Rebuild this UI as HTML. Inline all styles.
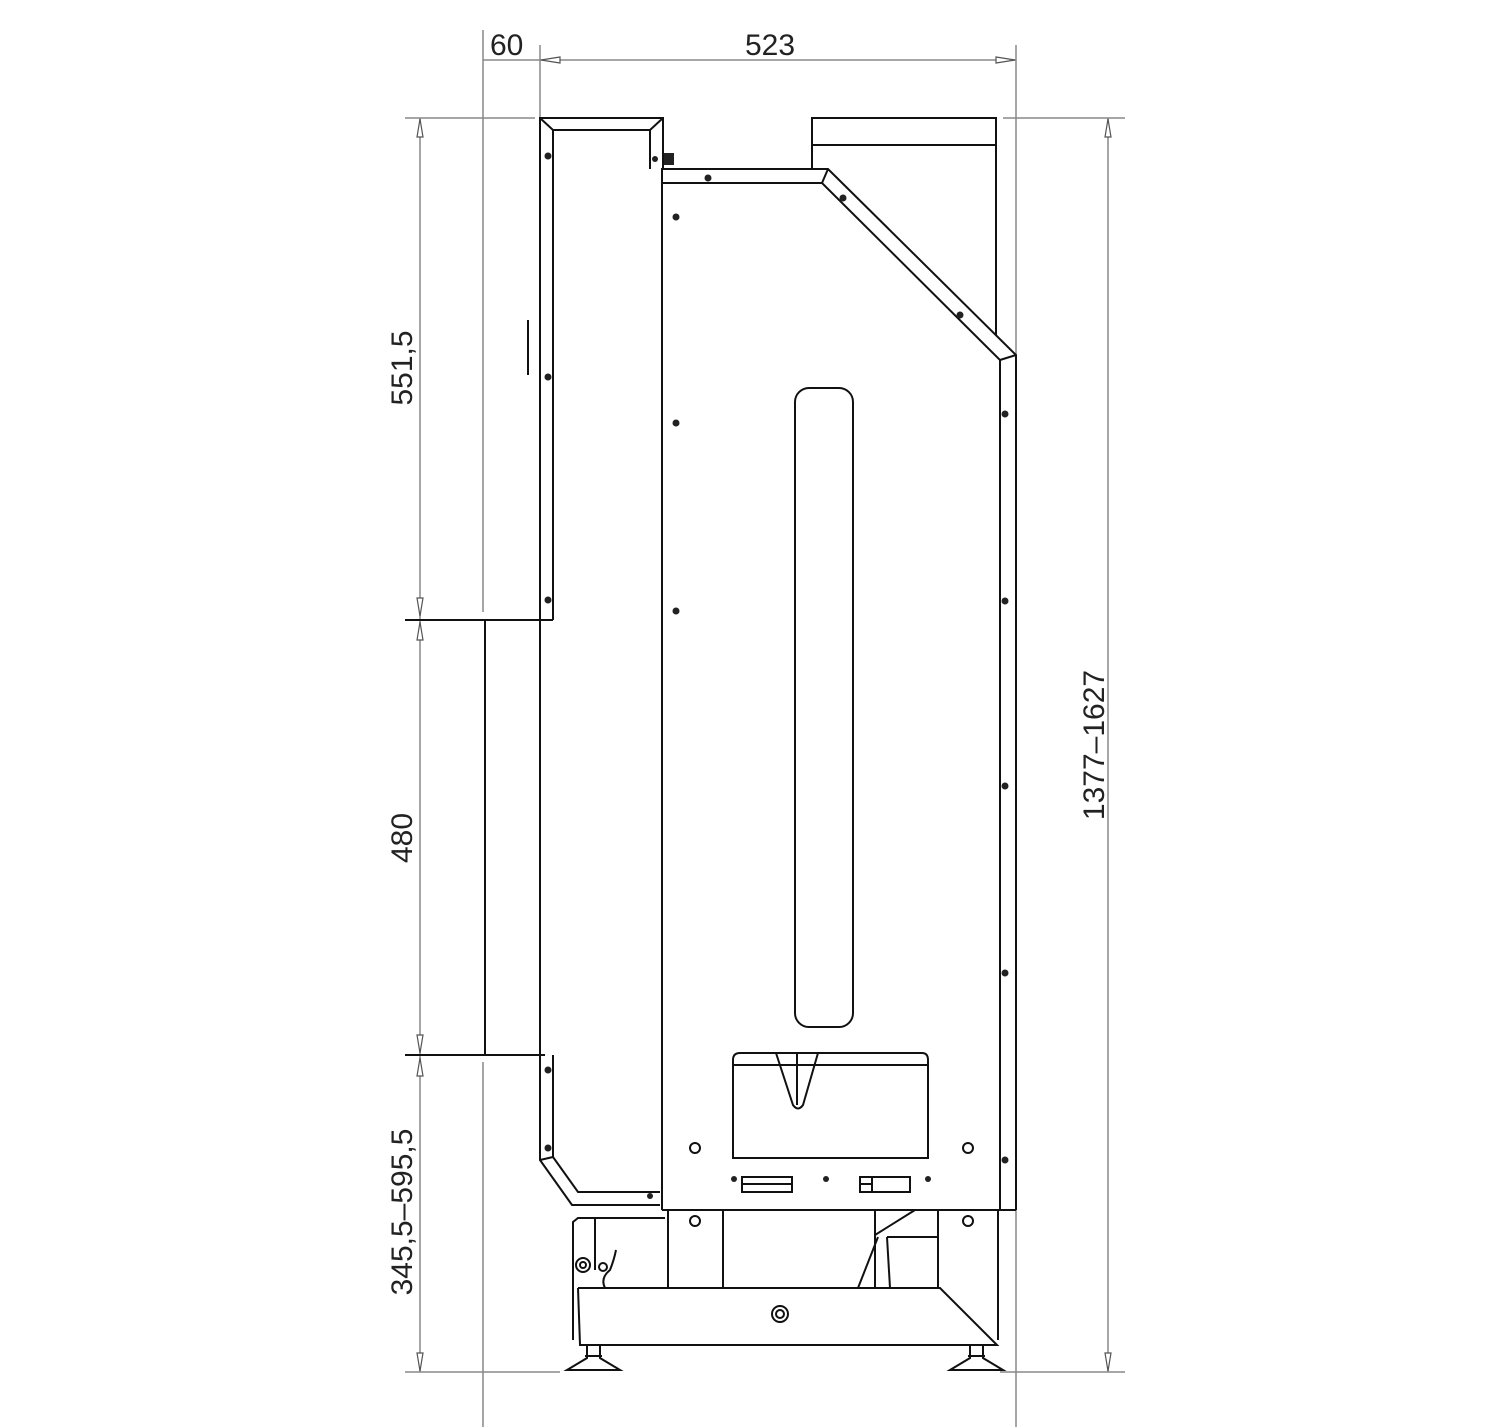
<!DOCTYPE html>
<html><head><style>
html,body{margin:0;padding:0;background:#fff;}
svg{display:block;}
text{font-family:"Liberation Sans",sans-serif;fill:#222;}
</style></head><body>
<svg width="1500" height="1427" viewBox="0 0 1500 1427" xmlns="http://www.w3.org/2000/svg">
<g stroke="#888" stroke-width="1.5" fill="none">
<!-- extension lines -->
<line x1="483" y1="30" x2="483" y2="612"/>
<line x1="483" y1="1062" x2="483" y2="1427"/>
<line x1="540" y1="45" x2="540" y2="118"/>
<line x1="1016" y1="45" x2="1016" y2="1427"/>
<line x1="483" y1="60" x2="1016" y2="60"/>
<line x1="420" y1="118" x2="420" y2="1372"/>
<line x1="1108" y1="118" x2="1108" y2="1372"/>
<line x1="405" y1="118" x2="535" y2="118"/>
<line x1="1003" y1="118" x2="1125" y2="118"/>
<line x1="405" y1="1372" x2="560" y2="1372"/>
<line x1="1000" y1="1372" x2="1125" y2="1372"/>
</g>
<g stroke="#555" stroke-width="1.2" fill="#fff">
<polygon points="541,60 560,57 560,63"/>
<polygon points="1015,60 996,57 996,63"/>
<polygon points="420,119 417,137 423,137"/>
<polygon points="420,616 417,598 423,598"/>
<polygon points="420,622 417,640 423,640"/>
<polygon points="420,1053 417,1035 423,1035"/>
<polygon points="420,1058 417,1076 423,1076"/>
<polygon points="420,1371 417,1353 423,1353"/>
<polygon points="1108,119 1105,137 1111,137"/>
<polygon points="1108,1371 1105,1353 1111,1353"/>
</g>
<g font-size="30">
<text x="490" y="55">60</text>
<text x="745" y="55">523</text>
<text transform="translate(412,368) rotate(-90)" text-anchor="middle">551,5</text>
<text transform="translate(412,838) rotate(-90)" text-anchor="middle">480</text>
<text transform="translate(412,1212) rotate(-90)" text-anchor="middle">345,5–595,5</text>
<text transform="translate(1104,745) rotate(-90)" text-anchor="middle">1377–1627</text>
</g>
<g stroke="#111" stroke-width="2" fill="none">
<!-- step lines -->
<line x1="405" y1="620" x2="540" y2="620"/>
<line x1="405" y1="1055" x2="545" y2="1055"/>
<line x1="485" y1="620" x2="485" y2="1055"/>
<!-- left panel -->
<polyline points="540,620 540,118 663,118 663,169"/>
<polyline points="553,620 553,130 650,130 650,169"/>
<line x1="540" y1="118" x2="553" y2="130"/>
<line x1="663" y1="118" x2="650" y2="130"/>
<line x1="540" y1="620" x2="553" y2="620"/>
<line x1="540" y1="620" x2="540" y2="1055"/>
<line x1="528" y1="320" x2="528" y2="375"/>
<!-- lower left panel -->
<polyline points="540,1055 540,1160 572,1205 660,1205"/>
<polyline points="553,1055 553,1157 578,1192 660,1192"/>
<line x1="540" y1="1160" x2="553" y2="1157"/>
<!-- main body -->
<polyline points="662,1210 662,169 828,169 1016,355 1016,1210"/>
<polyline points="662,183 822,183 1000,360 1000,1210"/>
<line x1="822" y1="183" x2="828" y2="169"/>
<line x1="1000" y1="360" x2="1016" y2="355"/>
<!-- top right box -->
<rect x="812" y="118" width="184" height="27"/>
<line x1="812" y1="145" x2="812" y2="169"/>
<line x1="996" y1="145" x2="996" y2="335"/>
<!-- slot -->
<rect x="795" y="388" width="58" height="639" rx="14"/>
<!-- lower box -->
<path d="M733,1158 L733,1060 Q733,1053 740,1053 L922,1053 Q928,1053 928,1060 L928,1158 Z"/>
<line x1="733" y1="1065" x2="928" y2="1065"/>
<path d="M776,1053 L793,1105 Q798,1112 803,1105 L818,1053"/>
<line x1="797" y1="1053" x2="797" y2="1105"/>
<!-- small slots -->
<rect x="742" y="1177" width="50" height="15"/>
<line x1="742" y1="1184" x2="792" y2="1184"/>
<rect x="860" y="1177" width="50" height="15"/>
<line x1="872" y1="1177" x2="872" y2="1192"/>
<line x1="860" y1="1184" x2="872" y2="1184"/>
<!-- bottom -->
<line x1="662" y1="1210" x2="1016" y2="1210"/>
<line x1="668" y1="1210" x2="668" y2="1288"/>
<line x1="723" y1="1210" x2="723" y2="1288"/>
<line x1="938" y1="1210" x2="938" y2="1288"/>
<line x1="998" y1="1210" x2="998" y2="1340"/>
<line x1="875" y1="1210" x2="875" y2="1288"/>
<line x1="875" y1="1235" x2="915" y2="1210"/>
<line x1="878" y1="1237" x2="858" y2="1288"/>
<line x1="887" y1="1237" x2="890" y2="1288"/>
<line x1="887" y1="1237" x2="938" y2="1237"/>
<!-- base -->
<polyline points="578,1288 940,1288 997,1345 580,1345 578,1288"/>
<polyline points="573,1340 573,1222 578,1218 665,1218"/>
<line x1="595" y1="1218" x2="595" y2="1270"/>
<path d="M605,1288 Q600,1278 610,1270 Q614,1260 616,1250"/>
<!-- feet -->
<path d="M587,1345 L587,1358 L567,1370 L620,1370 L600,1358 L600,1345"/>
<line x1="585" y1="1356" x2="602" y2="1356"/>
<path d="M970,1345 L970,1358 L950,1370 L1003,1370 L983,1358 L983,1345"/>
<line x1="968" y1="1356" x2="985" y2="1356"/>
</g>
<g stroke="#111" stroke-width="2" fill="none">
<circle cx="695" cy="1148" r="5"/>
<circle cx="968" cy="1148" r="5"/>
<circle cx="695" cy="1221" r="5"/>
<circle cx="968" cy="1221" r="5"/>
<circle cx="780" cy="1314" r="8"/><circle cx="780" cy="1314" r="4"/>
<circle cx="583" cy="1265" r="7"/><circle cx="583" cy="1265" r="3"/>
<circle cx="603" cy="1267" r="4"/>
</g>
<g fill="#222">
<circle cx="548" cy="156" r="3.5"/><circle cx="548" cy="377" r="3.5"/><circle cx="548" cy="600" r="3.5"/>
<circle cx="548" cy="1070" r="3.5"/><circle cx="548" cy="1148" r="3.5"/>
<circle cx="655" cy="159" r="3"/><circle cx="708" cy="178" r="3.5"/>
<circle cx="843" cy="198" r="3.5"/><circle cx="960" cy="315" r="3.5"/>
<circle cx="676" cy="217" r="3.5"/><circle cx="676" cy="423" r="3.5"/><circle cx="676" cy="611" r="3.5"/>
<circle cx="1005" cy="414" r="3.5"/><circle cx="1005" cy="601" r="3.5"/><circle cx="1005" cy="786" r="3.5"/>
<circle cx="1005" cy="973" r="3.5"/><circle cx="1005" cy="1160" r="3.5"/>
<circle cx="650" cy="1196" r="3"/>
<circle cx="734" cy="1179" r="3"/><circle cx="826" cy="1179" r="3"/><circle cx="928" cy="1179" r="3"/>
<rect x="664" y="153" width="10" height="12"/>
</g>
</svg>
</body></html>
